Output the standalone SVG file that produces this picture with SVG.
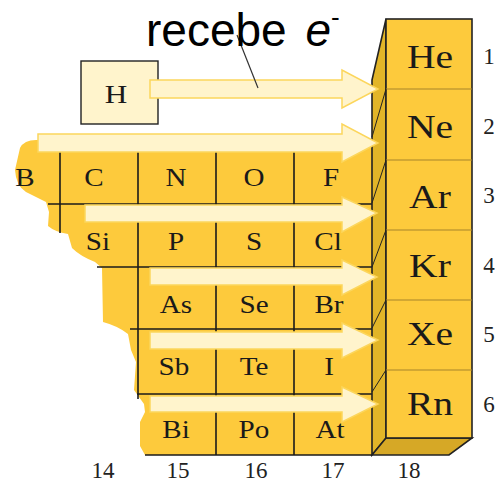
<svg xmlns="http://www.w3.org/2000/svg" width="500" height="482" viewBox="0 0 500 482">
<style>
.sym{font-family:"Liberation Serif","DejaVu Serif",serif;font-size:26px;fill:#1a1a1a;text-anchor:middle}
.big{font-family:"Liberation Serif","DejaVu Serif",serif;font-size:33px;fill:#1a1a1a;text-anchor:middle}
.num{font-family:"Liberation Serif","DejaVu Serif",serif;font-size:23px;fill:#222;text-anchor:middle}
.grid{stroke:#1a1a1a;stroke-width:1.6;fill:none}
.arrow{fill:#fff4cc;stroke:#fcd65c;stroke-width:1.5}
.face{fill:#fdca3c;stroke:#222;stroke-width:1.6}
.row{stroke:#a8842a;stroke-width:1.2}
</style>
<rect width="500" height="482" fill="#ffffff"/>
<g id="table">
<path d="M372 140 L36 140 Q24 140 20 148 L15 170 Q16 186 26 192 L46 202 L49 212 L48 226 Q55 232 68 234 L72 248 Q80 256 95 262 L102 268 L103 322 Q118 326 128 334 L131 350 L136 362 L134 390 L144 404 L145 412 L140 422 L140 446 L145 455 L372 455 Z" fill="#fdca3c"/>
<line class="grid" x1="60" y1="141" x2="60" y2="233"/>
<line class="grid" x1="138" y1="141" x2="138" y2="399"/>
<line class="grid" x1="216" y1="141" x2="216" y2="455"/>
<line class="grid" x1="294" y1="141" x2="294" y2="455"/>
<line class="grid" x1="48" y1="204" x2="372" y2="204"/>
<line class="grid" x1="97" y1="267" x2="372" y2="267"/>
<line class="grid" x1="130" y1="329" x2="372" y2="329"/>
<line class="grid" x1="137" y1="394" x2="372" y2="394"/>
<line class="grid" x1="145" y1="455" x2="372" y2="455"/>
</g>
<g id="B"><text class="sym" transform="translate(25,186) scale(1.12,1)">B</text></g>
<g id="C"><text class="sym" transform="translate(94,186) scale(1.12,1)">C</text></g>
<g id="N"><text class="sym" transform="translate(176,186) scale(1.12,1)">N</text></g>
<g id="O"><text class="sym" transform="translate(254,186) scale(1.12,1)">O</text></g>
<g id="F"><text class="sym" transform="translate(331,186) scale(1.12,1)">F</text></g>
<g id="Si"><text class="sym" transform="translate(98,250) scale(1.12,1)">Si</text></g>
<g id="P"><text class="sym" transform="translate(176,250) scale(1.12,1)">P</text></g>
<g id="S"><text class="sym" transform="translate(254,250) scale(1.12,1)">S</text></g>
<g id="Cl"><text class="sym" transform="translate(328,250) scale(1.12,1)">Cl</text></g>
<g id="As"><text class="sym" transform="translate(176,313) scale(1.12,1)">As</text></g>
<g id="Se"><text class="sym" transform="translate(254,313) scale(1.12,1)">Se</text></g>
<g id="Br"><text class="sym" transform="translate(329,313) scale(1.12,1)">Br</text></g>
<g id="Sb"><text class="sym" transform="translate(174,375) scale(1.12,1)">Sb</text></g>
<g id="Te"><text class="sym" transform="translate(254,375) scale(1.12,1)">Te</text></g>
<g id="I"><text class="sym" transform="translate(329,375) scale(1.12,1)">I</text></g>
<g id="Bi"><text class="sym" transform="translate(176,438) scale(1.12,1)">Bi</text></g>
<g id="Po"><text class="sym" transform="translate(254,438) scale(1.12,1)">Po</text></g>
<g id="At"><text class="sym" transform="translate(330,438) scale(1.12,1)">At</text></g>
<g id="column18">
<polygon points="372,80 386,19 386,438 372,455" fill="#e2b528" stroke="#222" stroke-width="1.6"/>
<polygon points="372,455 386,438 472,438 449,455" fill="#d6a826" stroke="#222" stroke-width="1.6"/>
<rect class="face" x="386" y="19" width="86" height="419"/>
<line class="row" x1="386" y1="89" x2="472" y2="89"/>
<line class="row" x1="386" y1="160" x2="472" y2="160"/>
<line class="row" x1="386" y1="230" x2="472" y2="230"/>
<line class="row" x1="386" y1="300" x2="472" y2="300"/>
<line class="row" x1="386" y1="370" x2="472" y2="370"/>
<g stroke="#222" stroke-width="1">
<line x1="386" y1="89" x2="372" y2="137"/>
<line x1="386" y1="160" x2="372" y2="203"/>
<line x1="386" y1="230" x2="372" y2="267"/>
<line x1="386" y1="300" x2="372" y2="328"/>
<line x1="386" y1="370" x2="372" y2="392"/>
</g>
</g>
<g id="He"><text class="big" transform="translate(430,68) scale(1.2,1)">He</text></g>
<g id="Ne"><text class="big" transform="translate(430,138) scale(1.2,1)">Ne</text></g>
<g id="Ar"><text class="big" transform="translate(430,208) scale(1.2,1)">Ar</text></g>
<g id="Kr"><text class="big" transform="translate(430,277) scale(1.2,1)">Kr</text></g>
<g id="Xe"><text class="big" transform="translate(430,345) scale(1.2,1)">Xe</text></g>
<g id="Rn"><text class="big" transform="translate(430,415) scale(1.2,1)">Rn</text></g>
<g id="H">
<rect x="81" y="61" width="77" height="63" fill="#fff4cc" stroke="#222" stroke-width="1.4"/>
<text class="sym" transform="translate(116,103) scale(1.2,1)">H</text>
</g>
<g id="connectors">
<polygon class="arrow" points="150,80 342,80 342,70 378,89 342,108 342,98 150,98"/>
<polygon class="arrow" points="38,134 342,134 342,124 378,143 342,162 342,152 38,152"/>
<polygon class="arrow" points="85,205 342,205 342,197 377,213 342,232 342,222 85,222"/>
<polygon class="arrow" points="150,268 342,268 342,260 377,277 342,295 342,285 150,285"/>
<polygon class="arrow" points="150,332 342,332 342,323 378,340 342,358 342,349 150,349"/>
<polygon class="arrow" points="150,396 342,396 342,387 378,404 342,422 342,412 150,412"/>
<line x1="237" y1="35" x2="258" y2="88" stroke="#333" stroke-width="1.2"/>
</g>
<g id="label">
<text x="146" y="46" font-family="'Liberation Sans',Arial,sans-serif" font-size="46" fill="#000">recebe <tspan font-style="italic" dx="6">e</tspan><tspan font-size="26" dy="-20">-</tspan></text>
</g>
<g id="numbers">
<text class="num" x="489" y="64">1</text>
<text class="num" x="489" y="134">2</text>
<text class="num" x="489" y="203">3</text>
<text class="num" x="489" y="273">4</text>
<text class="num" x="489" y="342">5</text>
<text class="num" x="489" y="412">6</text>
<text class="num" x="103" y="478">14</text>
<text class="num" x="178" y="478">15</text>
<text class="num" x="256" y="478">16</text>
<text class="num" x="333" y="478">17</text>
<text class="num" x="409" y="478">18</text>
</g>
</svg>
